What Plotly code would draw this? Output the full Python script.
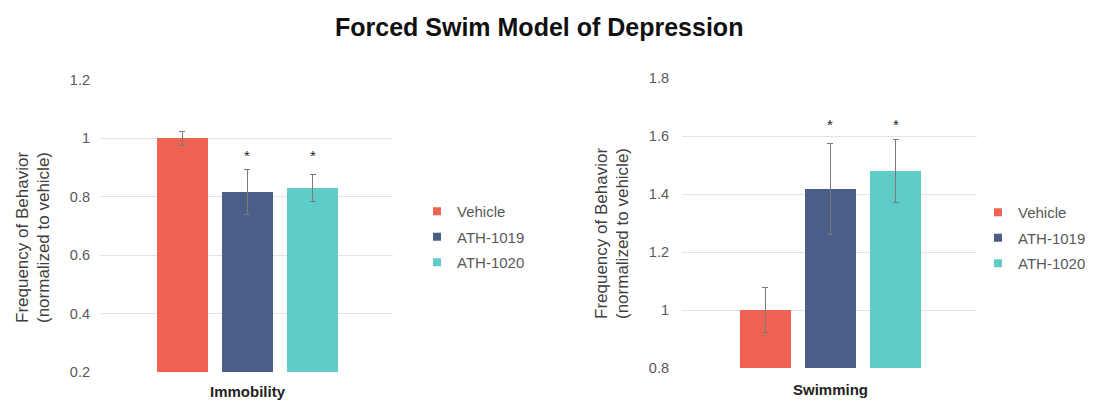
import plotly.graph_objects as go

# ---- data ----
series = ["Vehicle", "ATH-1019", "ATH-1020"]
colors = ["#EE6352", "#4B5E88", "#5ECDC8"]
panels = ["Immobility", "Swimming"]
immobility_vals = [1.00, 0.817, 0.830]
immobility_err = [0.024, 0.076, 0.045]
swimming_vals = [1.00, 1.417, 1.480]
swimming_err = [0.078, 0.158, 0.108]
significant = [False, True, True]
y_ranges = [[0.2, 1.2], [0.8, 1.8]]
y_ticks = [[0.2, 0.4, 0.6, 0.8, 1.0, 1.2], [0.8, 1.0, 1.2, 1.4, 1.6, 1.8]]
y_ticktext = [["0.2", "0.4", "0.6", "0.8", "1", "1.2"], ["0.8", "1", "1.2", "1.4", "1.6", "1.8"]]
title = "Forced Swim Model of Depression"
ytitle_lines = ["Frequency of Behavior", "(normalized to vehicle)"]

OFF = 8  # default page body margin
W, H = 1115 - OFF, 401 - OFF
FONT = "Liberation Sans, Arial, sans-serif"
GRAY = "#595959"

def fx(px):
    return (px - OFF) / W

def fy(py):
    return 1 - (py - OFF) / H

fig = go.Figure()
vals_all = [immobility_vals, swimming_vals]
errs_all = [immobility_err, swimming_err]
positions = [i - (len(series) - 1) / 2 for i in range(len(series))]

for p, (vals, errs) in enumerate(zip(vals_all, errs_all)):
    xa = "x" if p == 0 else "x2"
    ya = "y" if p == 0 else "y2"
    lg = "legend" if p == 0 else "legend2"
    for i, s in enumerate(series):
        fig.add_trace(go.Bar(
            x=[positions[i]], y=[vals[i]], width=0.78,
            name=s, marker=dict(color=colors[i], line=dict(width=0)),
            error_y=dict(type="data", array=[errs[i]], color="#7a7a7a",
                         thickness=1, width=3),
            xaxis=xa, yaxis=ya, showlegend=False, hoverinfo="skip",
        ))
    # legend entries with small square swatches
    for i, s in enumerate(series):
        fig.add_trace(go.Scatter(
            x=[None], y=[None], mode="markers", name=s,
            marker=dict(symbol="square", size=8, color=colors[i]),
            xaxis=xa, yaxis=ya, legend=lg, legendgroup=f"{p}-{s}",
        ))
    # significance stars
    sig_tops = [v + e for v, e, s in zip(vals, errs, significant) if s]
    star_y = max(sig_tops)
    for i, s in enumerate(significant):
        if s:
            fig.add_annotation(x=positions[i], y=star_y, xref=xa, yref=ya,
                               text="*", showarrow=False, yanchor="bottom",
                               yshift=4, font=dict(size=15, color="#222", family=FONT))

axis_common = dict(showline=False, zeroline=False, showgrid=False, automargin=False,
                   tickfont=dict(size=15, color="#222", family=FONT), fixedrange=True)
yaxis_common = dict(showgrid=True, gridcolor="#e3e3e3", gridwidth=1, zeroline=False,
                    showline=False, automargin=False,
                    tickfont=dict(size=14.5, color=GRAY, family=FONT))
fig.update_layout(
    xaxis=dict(domain=[fx(100), fx(393)], range=[-2.26, 2.23], tickvals=[0],
               ticktext=[f"<b>{panels[0]}</b>"], anchor="y", ticklabelstandoff=9,
               **axis_common),
    xaxis2=dict(domain=[fx(682), fx(977)], range=[-2.27, 2.24], tickvals=[0],
                ticktext=[f"<b>{panels[1]}</b>"], anchor="y2", ticklabelstandoff=11,
                **axis_common),
    yaxis=dict(domain=[fy(372), fy(80)], range=y_ranges[0], tickvals=y_ticks[0],
               ticktext=y_ticktext[0], anchor="x", ticklabelstandoff=9, **yaxis_common),
    yaxis2=dict(domain=[fy(368), fy(78)], range=y_ranges[1], tickvals=y_ticks[1],
                ticktext=y_ticktext[1], anchor="x2", ticklabelstandoff=12, **yaxis_common),
)

fig.add_annotation(text=f"<b>{title}</b>", x=fx(539), y=fy(27), xref="paper",
                   yref="paper", showarrow=False, xanchor="center", yanchor="middle",
                   font=dict(size=25, color="#111", family=FONT))
for xs, cy in [((22, 43), 238), ((601, 622), 234)]:
    for cx, line in zip(xs, ytitle_lines):
        fig.add_annotation(text=line, x=fx(cx), y=fy(cy), xref="paper", yref="paper",
                           showarrow=False, textangle=-90, xanchor="center",
                           yanchor="middle",
                           font=dict(size=17, color="#404040", family=FONT))

legend_common = dict(font=dict(size=15, color=GRAY, family=FONT), bgcolor="rgba(0,0,0,0)",
                     itemwidth=30, tracegroupgap=3, xanchor="left", yanchor="middle",
                     itemclick=False, itemdoubleclick=False)
fig.update_layout(
    legend=dict(x=fx(417), y=fy(237), **legend_common),
    legend2=dict(x=fx(978), y=fy(238), **legend_common),
    width=W, height=H, margin=dict(l=0, r=0, t=0, b=0, pad=0, autoexpand=False),
    plot_bgcolor="white", paper_bgcolor="white", showlegend=True,
    bargap=0, font=dict(family=FONT),
)

fig.write_html("out.html", config={"displayModeBar": False})
